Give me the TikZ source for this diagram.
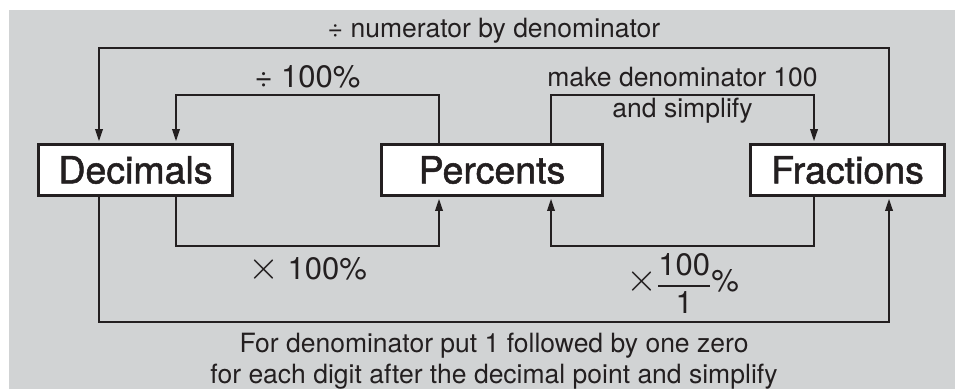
\documentclass[tikz,border=0pt]{standalone}
\usepackage{fontspec}
\setmainfont{TeX Gyre Heros}
\newfontfamily\boxfont[FakeBold=1.4]{TeX Gyre Heros}
\usepackage{amsmath}
\usetikzlibrary{arrows.meta,positioning}
\definecolor{panelgray}{HTML}{D1D3D4}
\definecolor{ink}{HTML}{231F20}
\newcommand{\bigtimes}{\scalebox{1.6}{$\times$}}

\begin{document}
\begin{tikzpicture}[
			x = 1pt, y = -1pt,
			every node/.style = {text = ink},
			box/.style = {draw = ink, line width = 2.6pt, fill = white, minimum width = 194pt, minimum height = 51pt, inner sep = 0pt, font = \boxfont\fontsize{37.5}{44}\selectfont},
			conn/.style = {draw = ink, line width = 1.8pt, -{Triangle[length=12pt,width=7.5pt]}, shorten > = 2pt},
			lbl/.style = {font = \fontsize{26.5}{31}\selectfont, align = center, inner sep = 0pt},
			op/.style = {font = \fontsize{31}{36}\selectfont, inner sep = 0pt}
			]

			\useasboundingbox (0,0) rectangle (960,389);
			\fill[white] (0,0) rectangle (960,389);
			\fill[panelgray] (9,10) rectangle (955,389);

			\node[box] (dec) at (135.5,170) {Decimals};
			\node[box,minimum width=221pt] (per) at (492,170) {Percents};
			\node[box] (frac) at (847.5,170) {Fractions};

			\coordinate (outertop) at (0,48);
			\coordinate (innertop) at (0,95);
			\coordinate (innerbot) at (0,246);
			\coordinate (outerbot) at (0,322);

			\draw[conn] ([xshift=41.5pt]frac.north) -- ([xshift=41.5pt]frac.north |- outertop) -| node[pos=0.25,lbl,anchor=base,yshift=11pt] (fractodec) {÷ numerator by denominator} ([xshift=-36.5pt]dec.north);
			\draw[conn] ([xshift=-53pt]per.north) -- ([xshift=-53pt]per.north |- innertop) -| node[pos=0.25,op,anchor=base,yshift=8pt] (pertodec) {÷ 100\%} ([xshift=40.5pt]dec.north);
			\draw[conn] ([xshift=59pt]per.north) -- ([xshift=59pt]per.north |- innertop) -| node[pos=0.25,lbl] (pertofrac) {make denominator 100\\and simplify} ([xshift=-33.5pt]frac.north);

			\draw[conn] ([xshift=40.5pt]dec.south) -- ([xshift=40.5pt]dec.south |- innerbot) -| node[pos=0.25,op,anchor=north,yshift=-9pt] (dectoper) {\bigtimes\ 100\%} ([xshift=-53pt]per.south);
			\draw[conn] ([xshift=-33.5pt]frac.south) -- ([xshift=-33.5pt]frac.south |- innerbot) -| node[pos=0.25,op,yshift=-37.5pt] (fractoper) {\bigtimes$\genfrac{}{}{1.8pt}{0}{\text{100}}{\text{1}}$\%} ([xshift=59pt]per.south);
			\draw[conn] ([xshift=-36.5pt]dec.south) -- ([xshift=-36.5pt]dec.south |- outerbot) -| node[pos=0.25,lbl,anchor=north,yshift=-10pt] (dectofrac) {For denominator put 1 followed by one zero\\for each digit after the decimal point and simplify} ([xshift=41.5pt]frac.south);

		\end{tikzpicture}
\end{document}
